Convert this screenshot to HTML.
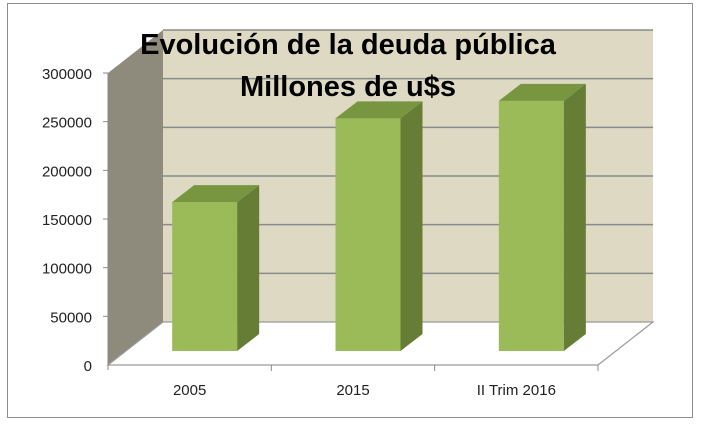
<!DOCTYPE html>
<html><head><meta charset="utf-8"><style>
body{margin:0;background:#fff;}
svg{display:block;font-family:"Liberation Sans",sans-serif;}
</style></head><body>
<svg id="chart" width="703" height="425" viewBox="0 0 703 425">
<rect x="7.5" y="3.5" width="685" height="414" fill="#fff" stroke="#8c8c8c"/>
<g id="plot"></g>
<text x="348" y="54" text-anchor="middle" font-size="29" font-weight="bold" fill="#000">Evolución de la deuda pública</text>
<text x="348" y="96" text-anchor="middle" font-size="29" font-weight="bold" fill="#000">Millones de u$s</text>
</svg>
<script>
const categories = ["2005", "2015", "II Trim 2016"];
const values = [153000, 239000, 257000];
const yTicks = [0, 50000, 100000, 150000, 200000, 250000, 300000];
const yMax = 300000;

const NS = "http://www.w3.org/2000/svg";
const g = document.getElementById("plot");
const X0 = 108, X1 = 598, Y0 = 365, Y1 = 73, DX = 55, DY = -43;
function y(v){ return Y0 - (v / yMax) * (Y0 - Y1); }
const band = (X1 - X0) / categories.length;
function xc(i){ return X0 + band * (i + 0.5); }
function mk(tag, attrs){ const e = document.createElementNS(NS, tag); for (const k in attrs) e.setAttribute(k, attrs[k]); g.appendChild(e); return e; }

// back wall
let e = mk("rect", {x: X0+DX, y: y(yMax)+DY, width: X1-X0, height: Y0-y(yMax), fill: "#ddd9c3"});


// side wall
e = mk("polygon", {points: `${X0},${y(yMax)} ${X0+DX},${y(yMax)+DY} ${X0+DX},${Y0+DY} ${X0},${Y0}`, fill: "#8f8b7c"});


// floor
e = mk("polygon", {points: `${X0},${Y0} ${X0+DX},${Y0+DY} ${X1+DX},${Y0+DY} ${X1},${Y0}`, fill: "#fff", stroke: "#9a9a9a", "stroke-width": 1.2});


// gridlines
yTicks.forEach(t => {
  if (t === 0) return;
  const l = mk("line", {x1: X0+DX, x2: X1+DX, y1: y(t)+DY, y2: y(t)+DY, stroke: "#8a8a8a", "stroke-width": 1.5});
  
  
  const tk = mk("line", {x1: X0-5, x2: X0, y1: y(t), y2: y(t), stroke: "#8a8a8a"});
  
  
});
yTicks.forEach(t => {
  const tx = mk("text", {x: 92, y: y(t)+6, "text-anchor": "end", "font-size": 15, fill: "#222"});
  tx.textContent = t;
  
  
});
// axis lines
e = mk("line", {x1: X0, x2: X0, y1: Y1, y2: Y0+5, stroke: "#8a8a8a"});


for (let i = 1; i <= categories.length; i++) {
  const tk = mk("line", {x1: X0+band*i, x2: X0+band*i, y1: Y0, y2: Y0+6, stroke: "#8a8a8a"});
  
  
}
// bars
const BW = 65, BDX = 22, BDY = -17, OX = 15, OY = -14;
values.forEach((v, i) => {
  const x0 = xc(i) + OX - BW/2, x1 = x0 + BW, yb = Y0 + OY, yt = y(v) + OY;
  const front = mk("rect", {x: x0, y: yt, width: BW, height: yb-yt, fill: "#9bbb59"});
  
  
  const side = mk("polygon", {points: `${x1},${yt} ${x1+BDX},${yt+BDY} ${x1+BDX},${yb+BDY} ${x1},${yb}`, fill: "#657d35"});
  
  
  const top = mk("polygon", {points: `${x0},${yt} ${x0+BDX},${yt+BDY} ${x1+BDX},${yt+BDY} ${x1},${yt}`, fill: "#789640"});
  
  
});
categories.forEach((c, i) => {
  const tx = mk("text", {x: xc(i), y: 395, "text-anchor": "middle", "font-size": 15, fill: "#222"});
  tx.textContent = c;
  
  
});
</script>
</body></html>
